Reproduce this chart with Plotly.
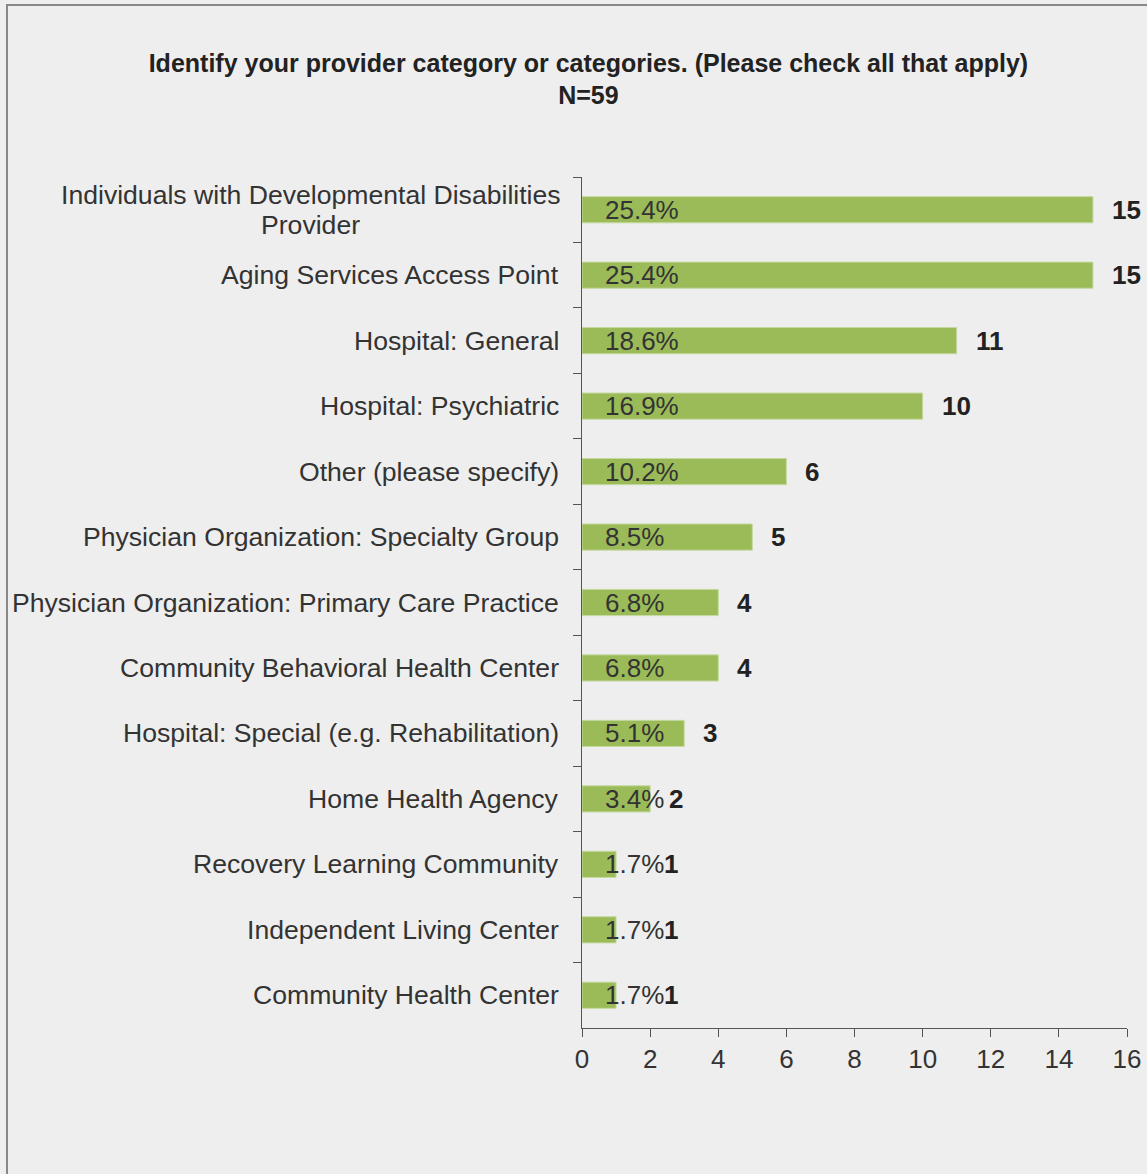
import plotly.graph_objects as go

categories = [
    "Individuals with Developmental Disabilities<br>Provider",
    "Aging Services Access Point",
    "Hospital: General",
    "Hospital: Psychiatric",
    "Other (please specify)",
    "Physician Organization: Specialty Group",
    "Physician Organization: Primary Care Practice",
    "Community Behavioral Health Center",
    "Hospital: Special (e.g. Rehabilitation)",
    "Home Health Agency",
    "Recovery Learning Community",
    "Independent Living Center",
    "Community Health Center",
]
counts = [15, 15, 11, 10, 6, 5, 4, 4, 3, 2, 1, 1, 1]
percents = ["25.4%", "25.4%", "18.6%", "16.9%", "10.2%", "8.5%", "6.8%",
            "6.8%", "5.1%", "3.4%", "1.7%", "1.7%", "1.7%"]
x_ticks = [0, 2, 4, 6, 8, 10, 12, 14, 16]
title_text = "Identify your provider category or categories. (Please check all that apply)<br>N=59"

W, H = 1147, 1174
ML, MR, MT, MB = 582, 20, 177, 146
plot_w = W - ML - MR
px_per_unit = plot_w / 16.0

FONT = "Liberation Sans, Arial, sans-serif"
TXT = "#333333"
LBL_SIZE = 26.6
LINE_GAP = 30

fig = go.Figure()
fig.add_trace(go.Bar(
    y=categories, x=counts, orientation="h",
    marker=dict(color="#9bbb59", line=dict(color="#c5d9a0", width=1)),
    width=0.4, hoverinfo="skip",
))

annotations = []
for cat, c, p in zip(categories, counts, percents):
    annotations.append(dict(x=0, y=cat, xref="x", yref="y", text=p, showarrow=False,
                            xanchor="left", xshift=21,
                            font=dict(family=FONT, size=26, color=TXT)))
    shift = max(17, 80 - c * px_per_unit)
    annotations.append(dict(x=c, y=cat, xref="x", yref="y", text=c, showarrow=False,
                            xanchor="left", xshift=shift,
                            font=dict(family=FONT, size=26, color="#222222", weight=600)))
    lines = cat.split("<br>")
    n = len(lines)
    for i, ln in enumerate(lines):
        annotations.append(dict(x=0, y=cat, xref="paper", yref="y", text=ln, showarrow=False,
                                xanchor="center" if n > 1 else "right",
                                xshift=(-21 - 250.5) if n > 1 else -21,
                                yshift=((n - 1) / 2 - i) * LINE_GAP,
                                font=dict(family=FONT, size=LBL_SIZE, color=TXT)))

# outer frame (left / top border)
x_left = (7 - ML) / plot_w
y_top = (H - MB - 5) / (H - MT - MB)

fig.update_layout(
    width=W, height=H,
    margin=dict(l=ML, r=MR, t=MT, b=MB, autoexpand=False),
    paper_bgcolor="#eeeeee", plot_bgcolor="#eeeeee",
    showlegend=False,
    title=dict(text=title_text, x=0.513, xanchor="center", y=0.939, yanchor="top",
               font=dict(family=FONT, size=25, color="#222222", weight="bold")),
    xaxis=dict(range=[0, 16], tickvals=x_ticks, showgrid=False, zeroline=False,
               showline=True, linecolor="#555555", linewidth=1, automargin=False,
               ticks="outside", ticklen=8, tickcolor="#555555",
               tickfont=dict(family=FONT, size=26, color=TXT)),
    yaxis=dict(autorange="reversed", showgrid=False, zeroline=False,
               showline=True, linecolor="#555555", linewidth=1, automargin=False,
               ticks="outside", ticklen=8, tickcolor="#555555",
               tickson="boundaries", showticklabels=False),
    annotations=annotations,
    shapes=[dict(type="rect", xref="paper", yref="paper",
                 x0=x_left, x1=1.2, y0=-0.5, y1=y_top,
                 line=dict(color="#888888", width=2), fillcolor="rgba(0,0,0,0)",
                 layer="below")],
)

fig.write_html("out.html", config={"displayModeBar": False},
               post_script="document.body.style.margin='0';document.body.style.overflow='hidden';")
